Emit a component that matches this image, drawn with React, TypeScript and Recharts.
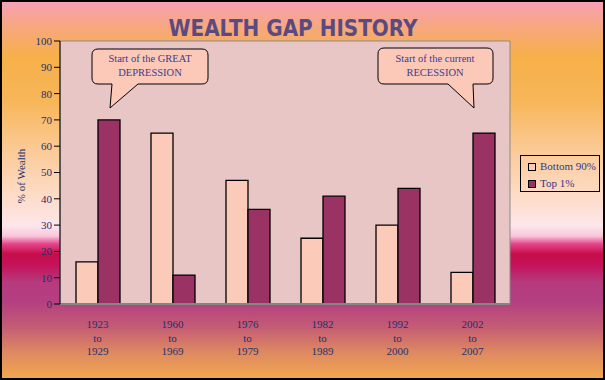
import React from 'react'
import { BarChart, Bar, XAxis, YAxis, CartesianGrid, ReferenceArea } from "recharts";

const periodStarts = ["1923", "1960", "1976", "1982", "1992", "2002"];
const periodEnds = ["1929", "1969", "1979", "1989", "2000", "2007"];
const bottom90 = [16, 65, 47, 25, 30, 12];
const top1 = [70, 11, 36, 41, 44, 65];
const yTicks = [0, 10, 20, 30, 40, 50, 60, 70, 80, 90, 100];

const data = periodStarts.map((start, i) => ({
  name: `${start}-${periodEnds[i]}`,
  start,
  end: periodEnds[i],
  bottom: bottom90[i],
  top: top1[i],
}));

const FONT = '"Liberation Serif", "DejaVu Serif", serif';
const TEXT = "#23306e";
const BOTTOM_COLOR = "#fccab9";
const TOP_COLOR = "#9a3264";

const PeriodTick = (props: any) => {
  const { x, y, payload } = props;
  const item = data.find((d) => d.name === payload.value);
  if (!item) return null;
  return (
    <text x={x} y={y} textAnchor="middle" fontFamily={FONT} fontSize={11} fill={TEXT}>
      <tspan x={x} dy={16}>{item.start}</tspan>
      <tspan x={x} dy={14}>to</tspan>
      <tspan x={x} dy={13}>{item.end}</tspan>
    </text>
  );
};

// legend drawn outside the chart so it doesn't eat plot space
const LegendBox = () => (
  <div style={{ position: "absolute", left: 518, top: 153, width: 80, height: 37, border: "1px solid #000", boxSizing: "border-box", fontFamily: FONT, fontSize: 11, color: "#3a3282", padding: "3px 0 0 7px", lineHeight: "15px" }}>
    {[["Bottom 90%", BOTTOM_COLOR], ["Top 1%", TOP_COLOR]].map(([label, color]) => (
      <div key={label} style={{ display: "flex", alignItems: "center", marginBottom: 2 }}>
        <span style={{ display: "inline-block", width: 6, height: 6, border: "1px solid #000", background: color, marginRight: 4 }} />
        {label}
      </div>
    ))}
  </div>
);

const background = "linear-gradient(to bottom, #f8a0b6 0px, #f7a878 28px, #f6b048 55px, #f7b65a 100px, #fbcb98 150px, #fddcc8 195px, #fde6ec 224px, #f9c6da 234px, #e4458a 242px, #c80c4a 252px, #c4145a 264px, #b63a7e 280px, #b44080 300px, #c45c74 325px, #de8862 350px, #f4ac4c 380px)";

export default function App() {
  return (
    <div style={{ position: "fixed", left: 0, top: 0, width: 605, height: 380, background, border: "2px solid #000", boxSizing: "border-box", overflow: "hidden" }}>
      <div style={{ position: "absolute", left: -2, top: -2 }}>
        <BarChart width={605} height={380} data={data} barCategoryGap={16} barGap={0} margin={{ top: 41, right: 95, left: 0, bottom: 16 }}>
          <CartesianGrid horizontal={false} vertical={false} fill="#e9c6c6" />
          <XAxis dataKey="name" height={60} tick={<PeriodTick />} tickLine={false} axisLine={{ stroke: "#858585", strokeWidth: 2 }} interval={0} />
          <YAxis width={60} domain={[0, 100]} ticks={yTicks} tickLine={{ stroke: "#000" }} tickSize={6} axisLine={{ stroke: "#000" }} tick={{ fill: TEXT, fontSize: 11, fontFamily: FONT }} />
          <ReferenceArea y1={0} y2={100} fill="none" stroke="#8a8a8a" strokeWidth={1} />
          <Bar dataKey="bottom" name="Bottom 90%" fill={BOTTOM_COLOR} stroke="#000" strokeWidth={1.3} isAnimationActive={false} />
          <Bar dataKey="top" name="Top 1%" fill={TOP_COLOR} stroke="#000" strokeWidth={1.3} isAnimationActive={false} />
        </BarChart>
      </div>
      <LegendBox />
      <svg width={605} height={380} style={{ position: "absolute", left: -2, top: -2, pointerEvents: "none" }}>
        <text x={293} y={36} textAnchor="middle" fontFamily='"DejaVu Sans", sans-serif' fontWeight={900} fontSize={23} fill="#5b4a80" textLength={249} lengthAdjust="spacingAndGlyphs">WEALTH GAP HISTORY</text>
        <text transform="translate(25,176) rotate(-90)" textAnchor="middle" fontFamily={FONT} fontSize={11} fill={TEXT}>% of Wealth</text>
        <path d="M98 49 H202 Q208 49 208 55 V78 Q208 84 202 84 H138 L110 108 L112 84 H98 Q92 84 92 78 V55 Q92 49 98 49 Z" fill="#fcc8b8" stroke="#000" strokeWidth={1} />
        <text x={150} y={62} textAnchor="middle" fontFamily={FONT} fontSize={10.5} fill="#3c3c8a">Start of the GREAT</text>
        <text x={150} y={76} textAnchor="middle" fontFamily={FONT} fontSize={10.5} fill="#3c3c8a">DEPRESSION</text>
        <path d="M384 48 H487 Q493 48 493 54 V78 Q493 84 487 84 H473 L474 108 L448 84 H384 Q378 84 378 78 V54 Q378 48 384 48 Z" fill="#fcc8b8" stroke="#000" strokeWidth={1} />
        <text x={435} y={62} textAnchor="middle" fontFamily={FONT} fontSize={10.5} fill="#3c3c8a">Start of the current</text>
        <text x={435} y={76} textAnchor="middle" fontFamily={FONT} fontSize={10.5} fill="#3c3c8a">RECESSION</text>
      </svg>
    </div>
  );
}
